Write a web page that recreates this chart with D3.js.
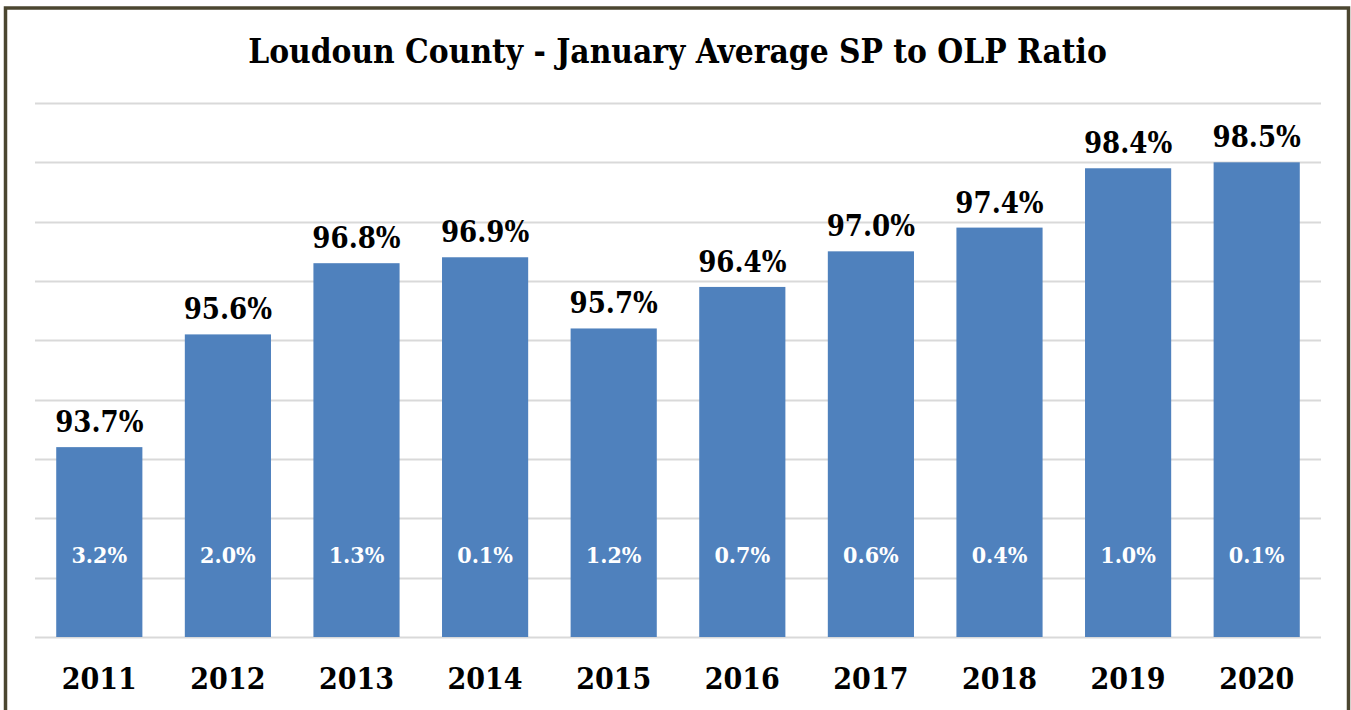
<!DOCTYPE html>
<html>
<head>
<meta charset="utf-8">
<script src="https://cdn.jsdelivr.net/npm/d3@7"></script>
<style>
  body { margin: 0; background: #fff; }
  text { font-family: "DejaVu Serif Condensed", "DejaVu Serif", serif; font-weight: bold; }
</style>
</head>
<body>
<div id="chart"></div>
<script>
const years = ["2011", "2012", "2013", "2014", "2015", "2016", "2017", "2018", "2019", "2020"];
const ratios = [93.7, 95.6, 96.8, 96.9, 95.7, 96.4, 97.0, 97.4, 98.4, 98.5];
const changes = [3.2, 2.0, 1.3, 0.1, 1.2, 0.7, 0.6, 0.4, 1.0, 0.1];
const title = "Loudoun County - January Average SP to OLP Ratio";

const width = 1351;
const height = 710;
const margin = { left: 35, right: 30, top: 103, bottom: 73 };

const svg = d3.select("#chart")
    .append("svg")
    .attr("width", width)
    .attr("height", height);

// frame
svg.append("path")
   .attr("d", `M5.5,${height} V8 H1348.5 V${height}`)
   .attr("fill", "none")
   .attr("stroke", "#4b4630")
   .attr("stroke-width", 3.5);

const x = d3.scaleBand()
    .domain(years)
    .range([margin.left, width - margin.right])
    .paddingInner(0.33)
    .paddingOuter(0.165);

const y = d3.scaleLinear()
    .domain([90.5, 99.5])
    .range([height - margin.bottom, margin.top]);

// gridlines
svg.append("g")
   .selectAll("line")
   .data(d3.range(90.5, 99.6, 1))
   .enter()
   .append("line")
   .attr("x1", margin.left)
   .attr("x2", width - margin.right)
   .attr("y1", d => Math.round(y(d)) + 0.5)
   .attr("y2", d => Math.round(y(d)) + 0.5)
   .attr("stroke", "#d9d9d9")
   .attr("stroke-width", 2);

const groups = svg.selectAll(".bar")
    .data(years.map((yr, i) => ({ yr, ratio: ratios[i], change: changes[i] })))
    .enter()
    .append("g")
    .attr("class", "bar");

groups.append("rect")
      .attr("x", d => x(d.yr))
      .attr("y", d => y(d.ratio))
      .attr("width", x.bandwidth())
      .attr("height", d => y(90.5) - y(d.ratio))
      .attr("fill", "#4f81bd");

groups.append("text")
      .attr("x", d => x(d.yr) + x.bandwidth() / 2)
      .attr("y", d => y(d.ratio) - 15)
      .attr("text-anchor", "middle")
      .attr("font-size", 29)
      .attr("fill", "#000")
      .text(d => d.ratio.toFixed(1) + "%");

groups.append("text")
      .attr("x", d => x(d.yr) + x.bandwidth() / 2)
      .attr("y", y(90.5) - 74)
      .attr("text-anchor", "middle")
      .attr("font-size", 23)
      .attr("fill", "#fff")
      .text(d => d.change.toFixed(1) + "%");

// x axis labels
svg.append("g")
   .selectAll("text")
   .data(years)
   .enter()
   .append("text")
   .attr("x", d => x(d) + x.bandwidth() / 2)
   .attr("y", 689)
   .attr("text-anchor", "middle")
   .attr("font-size", 30)
   .attr("fill", "#000")
   .text(d => d);

const t = svg.append("text")
   .attr("x", (248 + 1107) / 2)
   .attr("y", 63)
   .attr("text-anchor", "middle")
   .attr("font-size", 30)
   .attr("fill", "#000")
   .text(title);
// fit title to the reference width
const w = t.node().getComputedTextLength();
t.attr("font-size", 30 * 859 / w);
</script>
</body>
</html>
